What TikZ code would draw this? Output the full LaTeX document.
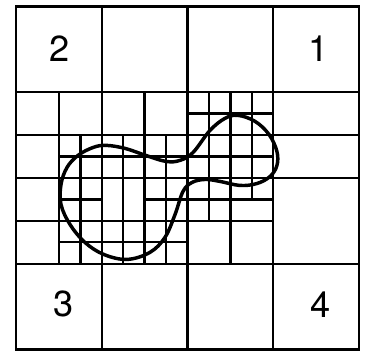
\documentclass[tikz,border=0pt]{standalone}
\usepackage{fontspec}
\setmainfont{TeX Gyre Heros}
\usepackage{tikz}

\begin{document}
\begin{tikzpicture}[
  x=0.5cm, y=-0.5cm,
  cell/.style={line width=1.6pt, line cap=rect},
  blob/.style={line width=2.3pt},
  num/.style={font=\fontsize{24}{28}\selectfont, inner sep=0pt},
  ]
  \useasboundingbox (-0.746,-0.30) rectangle (16.465,16.03);

  % coarse cells
  \draw[cell] (0,0) rectangle (16,16);
  \draw[cell] (4,0) -- (4,16) (8,0) -- (8,16) (12,0) -- (12,16);
  \draw[cell] (0,4) -- (16,4) (0,8) -- (16,8) (0,12) -- (16,12);

  % finer cells, horizontal
  \draw[cell] (0,6) -- (16,6) (8,5) -- (12,5) (2,7) -- (12,7);
  \draw[cell] (2,9) -- (4,9) (6,9) -- (12,9) (0,10) -- (12,10) (2,11) -- (8,11);
  % finer cells, vertical
  \draw[cell] (2,4) -- (2,12) (3,6) -- (3,12) (5,6) -- (5,12);
  \draw[cell] (6,4) -- (6,12) (7,6) -- (7,12) (9,4) -- (9,10);
  \draw[cell] (10,4) -- (10,12) (11,4) -- (11,9);

  % region
  \draw[blob] plot[smooth cycle, tension=0.6] coordinates {
    (4.20,6.48) (5.08,6.62) (6.06,6.95) (7.00,7.23) (7.65,7.18) (8.26,6.81)
    (9.05,5.78) (9.75,5.22) (10.35,5.08) (11.15,5.36) (11.80,5.97)
    (12.17,6.76) (12.17,7.42) (11.85,7.93) (11.24,8.26) (10.45,8.35)
    (9.51,8.16) (8.82,8.07) (8.21,8.21) (7.79,8.63) (7.42,9.70)
    (6.95,10.77) (6.25,11.47) (5.18,11.80) (4.10,11.57) (3.22,11.01)
    (2.52,10.17) (2.10,9.24) (2.10,8.30) (2.38,7.51) (2.89,6.95) (3.59,6.58)};

  \node[num] (q2) at (2.05,1.95) {2};
  \node[num] (q1) at (14.1,1.95) {1};
  \node[num] (q3) at (2.2,13.9) {3};
  \node[num] (q4) at (14.2,13.9) {4};
\end{tikzpicture}
\end{document}
